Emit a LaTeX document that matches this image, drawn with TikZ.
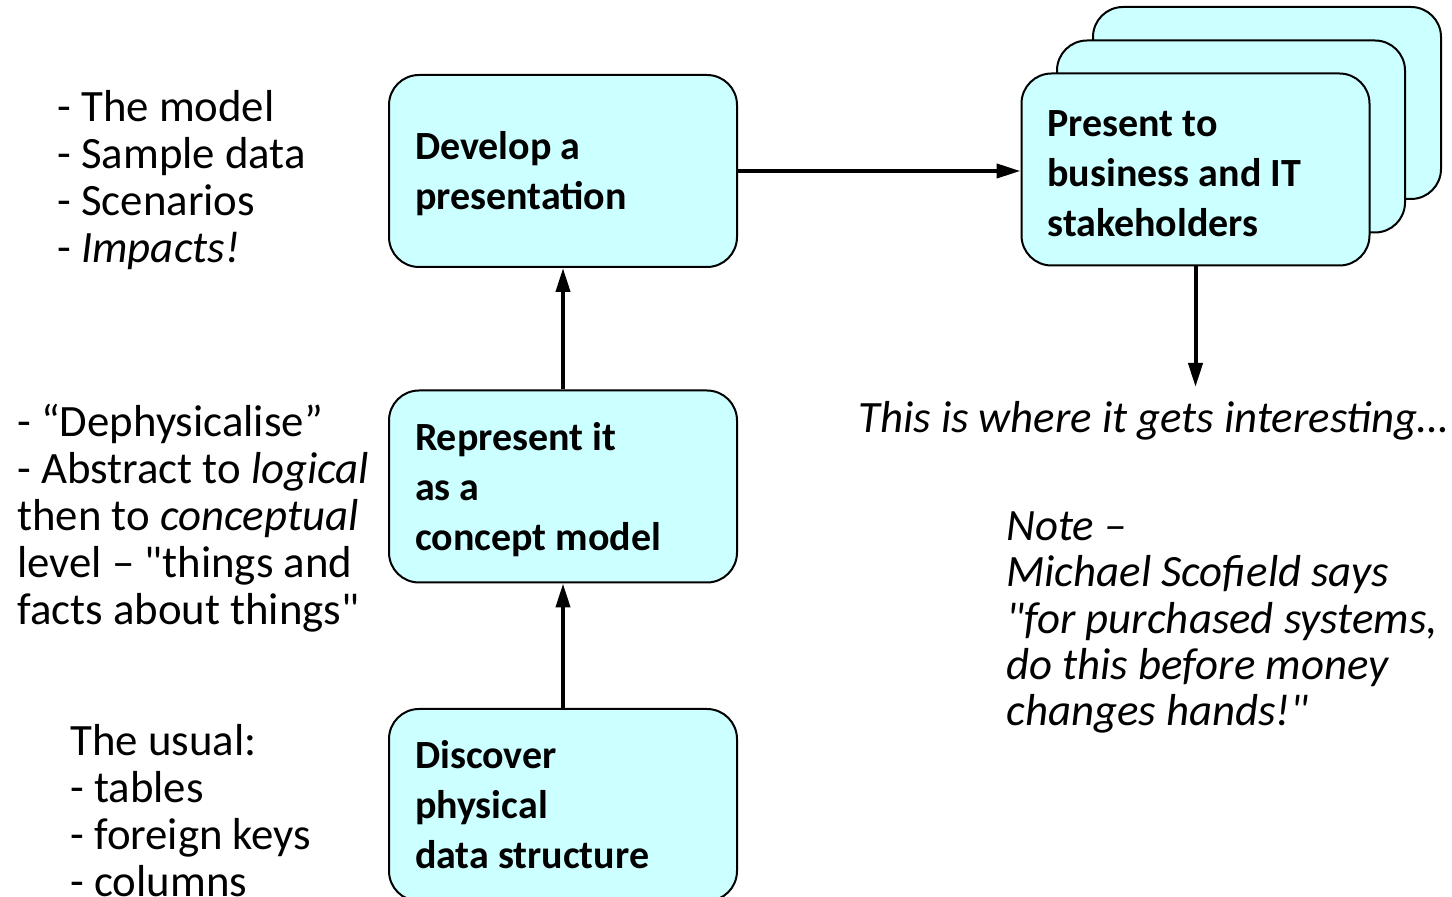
\documentclass[tikz,border=0pt]{standalone}
\usepackage{fontspec}
\newfontfamily\calibri{Carlito}
\usetikzlibrary{arrows.meta}

\definecolor{boxcyan}{RGB}{204,255,255}

\tikzset{
	procbox/.style={draw, line width=1pt, fill=boxcyan, rounded corners=15pt,
		minimum width=174pt, minimum height=96pt, inner xsep=13pt, inner ysep=0pt,
		text width=148pt, align=flush left,
		font=\calibri\fontsize{20}{25}\selectfont\bfseries},
	lowtext/.style={execute at begin node=\rule{0pt}{17pt}},
	sidetext/.style={anchor=west, inner sep=0pt, align=left,
		font=\calibri\fontsize{22.4}{23.5}\selectfont},
	flow/.style={->, line width=2pt}
}

\begin{document}
\begin{tikzpicture}[>={Triangle[length=12pt,width=7pt]}, line join=round, x=0.5pt, y=-0.5pt]
	\useasboundingbox (0,0) rectangle (1452,897);

	% Hộp chính
	\node[procbox, lowtext] (develop) at (563,171) {Develop a\\presentation};
	\node[procbox, lowtext] (represent) at (563,486.5) {Represent it\\as a\\concept model};
	\node[procbox] (discover) at (563,805) {Discover\\physical\\data structure};

	% Chồng hộp trình bày
	\node[procbox] (present3) at (1267,103) {};
	\node[procbox] (present2) at (1231,136.5) {};
	\node[procbox, lowtext] (present) at (1195.5,169.5) {Present to\\business and IT\\stakeholders};

	% Ghi chú bên trái
	\node[sidetext] (outputs) at (57,180) {- The model\\- Sample data\\- Scenarios\\- \textit{Impacts!}};
	\node[sidetext] (abstract) at (17,518.5) {- “Dephysicalise”\\- Abstract to \textit{logical}\\then to \textit{conceptual}\\level – "things and\\facts about things"};
	\node[sidetext] (usual) at (70,811) {The usual:\\- tables\\- foreign keys\\- columns};

	% Ghi chú bên phải
	\node[sidetext, font=\calibri\fontsize{22.4}{23.5}\selectfont\itshape] (interest) at (858,421) {This is where it gets interesting…};
	\node[sidetext, font=\calibri\fontsize{22.4}{23.2}\selectfont\itshape] (note) at (1006,622.5) {Note –\\Michael Scofield says\\"for purchased systems,\\do this before money\\changes hands!"};

	% Mũi tên
	\coordinate (tip) at (1195.5,387);
	\draw[flow] (discover) -- (represent);
	\draw[flow] (represent) -- (develop);
	\draw[flow] (develop.east) -- (develop.east -| present.west);
	\draw[flow] (present.south) -- (tip);
\end{tikzpicture}
\end{document}
